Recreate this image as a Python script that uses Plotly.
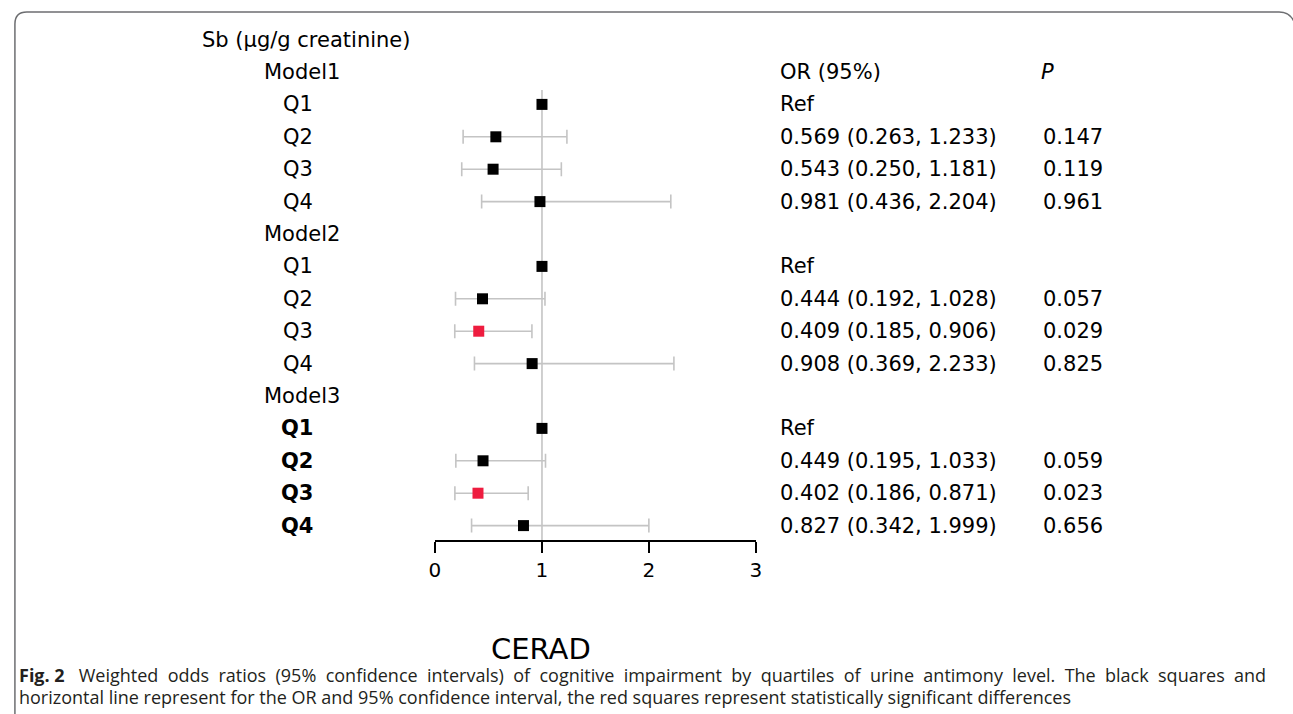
import plotly.graph_objects as go

W, H = 1293, 714

# ---------------- data ----------------
models = ["Model1", "Model2", "Model3"]
quartiles = ["Q1", "Q2", "Q3", "Q4"]
or_m1 = [1.0, 0.569, 0.543, 0.981]
lo_m1 = [None, 0.263, 0.250, 0.436]
hi_m1 = [None, 1.233, 1.181, 2.204]
p_m1 = [None, "0.147", "0.119", "0.961"]
or_m2 = [1.0, 0.444, 0.409, 0.908]
lo_m2 = [None, 0.192, 0.185, 0.369]
hi_m2 = [None, 1.028, 0.906, 2.233]
p_m2 = [None, "0.057", "0.029", "0.825"]
or_m3 = [1.0, 0.449, 0.402, 0.827]
lo_m3 = [None, 0.195, 0.186, 0.342]
hi_m3 = [None, 1.033, 0.871, 1.999]
p_m3 = [None, "0.059", "0.023", "0.656"]
x_ticks = [0, 1, 2, 3]

caption_1 = "Weighted odds ratios (95% confidence intervals) of cognitive impairment by quartiles of urine antimony level. The black squares and"
caption_2 = "horizontal line represent for the OR and 95% confidence interval, the red squares represent statistically significant differences"

all_or = [or_m1, or_m2, or_m3]
all_lo = [lo_m1, lo_m2, lo_m3]
all_hi = [hi_m1, hi_m2, hi_m3]
all_p = [p_m1, p_m2, p_m3]

FONT = "DejaVu Sans, Liberation Sans, sans-serif"
CAP_FONT = "Open Sans, Liberation Sans, sans-serif"
FS = 21
GRAY = "#c4c4c4"
RED = "#ee1c3f"

def px(x):
    return x / W

def py(y):
    return 1 - y / H

ROW0, ROWH = 72, 32.4  # pixel y of row 0 and row spacing
def row_of(ypix):
    return (ypix - ROW0) / ROWH

fig = go.Figure()

ref_x, ref_y = [], []
ns_x, ns_y, ns_lo, ns_hi = [], [], [], []
sg_x, sg_y, sg_lo, sg_hi = [], [], [], []
ann = []

def txt_ann(x, y, text, size=FS, xanchor="left"):
    return dict(x=px(x), y=y, xref="paper", yref="y", text=text,
                showarrow=False, xanchor=xanchor, yanchor="middle",
                font=dict(family=FONT, size=size, color="black"))

for m in range(3):
    base = m * 5
    ann.append(txt_ann(258, base, models[m]))
    for q in range(4):
        r = base + 1 + q
        bold = (m == 2)
        ann.append(txt_ann(278 if not bold else 276, r,
                           ("<b>%s</b>" % quartiles[q]) if bold else quartiles[q]))
        o = all_or[m][q]
        lo = all_lo[m][q]
        hi = all_hi[m][q]
        p = all_p[m][q]
        if lo is None:
            ref_x.append(o); ref_y.append(r)
            txt = "Ref"
        else:
            txt = "%.3f (%.3f, %.3f)" % (o, lo, hi)
            if float(p) < 0.05:
                sg_x.append(o); sg_y.append(r); sg_lo.append(o - lo); sg_hi.append(hi - o)
            else:
                ns_x.append(o); ns_y.append(r); ns_lo.append(o - lo); ns_hi.append(hi - o)
            ann.append(txt_ann(1045, r, p))
        ann.append(txt_ann(779, r, txt))

# headers
ann.append(txt_ann(196, row_of(40), "Sb (μg/g creatinine)"))
ann.append(txt_ann(779, 0, "OR (95%)"))
ann.append(txt_ann(1043, 0, "<i>P</i>"))
ann.append(dict(x=px(540), y=py(649), xref="paper", yref="paper", text="CERAD",
                showarrow=False, xanchor="center", yanchor="middle",
                font=dict(family=FONT, size=29, color="black")))
# justified first caption line: widen word gaps with no-break spaces
cap1 = "<b>Fig. 2</b>\u00a0\u00a0\u00a0" + caption_1.replace(" ", " \u00a0")
ann.append(dict(x=px(11), y=py(675), xref="paper", yref="paper",
                text=cap1,
                showarrow=False, xanchor="left", yanchor="middle",
                font=dict(family=CAP_FONT, size=18, color="#231f20")))
ann.append(dict(x=px(11), y=py(697), xref="paper", yref="paper",
                text=caption_2,
                showarrow=False, xanchor="left", yanchor="middle",
                font=dict(family=CAP_FONT, size=18, color="#231f20")))

err_style = dict(type="data", symmetric=False, color=GRAY, thickness=1.6, width=7)

fig.add_trace(go.Scatter(x=ns_x, y=ns_y, mode="markers",
                         marker=dict(symbol="square", size=11, color="black"),
                         error_x=dict(array=ns_hi, arrayminus=ns_lo, **err_style),
                         showlegend=False, hoverinfo="x"))
fig.add_trace(go.Scatter(x=sg_x, y=sg_y, mode="markers",
                         marker=dict(symbol="square", size=11, color=RED),
                         error_x=dict(array=sg_hi, arrayminus=sg_lo, **err_style),
                         showlegend=False, hoverinfo="x"))
fig.add_trace(go.Scatter(x=ref_x, y=ref_y, mode="markers",
                         marker=dict(symbol="square", size=11, color="black"),
                         showlegend=False, hoverinfo="x"))

shapes = [
    dict(type="line", xref="x", yref="y", x0=1, x1=1, y0=row_of(90), y1=row_of(540),
         line=dict(color=GRAY, width=1.6), layer="below"),
]
# frame (rounded top corners; right side runs off the canvas)
fx0, fx1, fy0 = 9, 1301, 12
rad = 12
path = ("M %f,%f L %f,%f Q %f,%f %f,%f L %f,%f Q %f,%f %f,%f L %f,%f" % (
    px(fx0), py(H + 5), px(fx0), py(fy0 + rad), px(fx0), py(fy0), px(fx0 + rad), py(fy0),
    px(fx1 - rad - 4), py(fy0), px(fx1 - 4), py(fy0), px(fx1), py(fy0 + rad), px(fx1), py(H + 5)))
shapes.append(dict(type="path", xref="paper", yref="paper", path=path,
                   line=dict(color="#6d6e71", width=1.5)))

fig.update_layout(
    width=W, height=H, autosize=False,
    margin=dict(l=0, r=0, t=0, b=0),
    paper_bgcolor="white", plot_bgcolor="white",
    showlegend=False,
    annotations=ann, shapes=shapes,
    xaxis=dict(domain=[px(433), px(757)], range=[0, 3], tickvals=x_ticks,
               ticktext=[str(t) for t in x_ticks],
               showgrid=False, zeroline=False, showline=True, linecolor="black", linewidth=1.5,
               ticks="outside", ticklen=11, tickwidth=1.5, tickcolor="black",
               tickfont=dict(family=FONT, size=20, color="black"), anchor="y"),
    yaxis=dict(domain=[py(540), py(12)], range=[row_of(540), row_of(12)], visible=False,
               showgrid=False, zeroline=False),
)

fig.write_html("out.html", config={"displayModeBar": False},
               post_script="document.body.style.margin='0px';document.body.style.overflow='hidden';")
